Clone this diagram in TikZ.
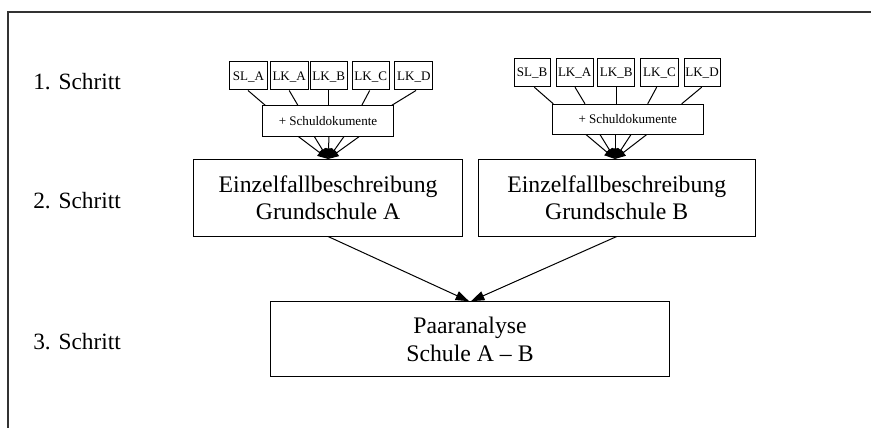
\documentclass[tikz,border=0pt]{standalone}
\usepackage{fontspec}
\setmainfont{Liberation Serif}
\usetikzlibrary{arrows.meta,calc}

\tikzset{
  box/.style={draw, line width=0.75pt, inner sep=0pt, align=center},
  smallbox/.style={box, font=\fontsize{9.8pt}{11pt}\selectfont, text height=6.5pt, text depth=0pt},
  bigbox/.style={box, font=\fontsize{17.8pt}{20.8pt}\selectfont},
  steplabel/.style={anchor=base west, inner sep=0pt, font=\fontsize{17.5pt}{20pt}\selectfont},
  link/.style={line width=0.75pt},
  arrowlink/.style={line width=0.75pt, -{Triangle[length=10pt,width=7pt]}},
  fanlink/.style={line width=0.75pt, -{Triangle[length=8pt,width=6pt]}},
  frame/.style={line width=1pt, black!80}
}

\begin{document}
\begin{tikzpicture}[x=0.75pt, y=-0.75pt]
\useasboundingbox (0,0) rectangle (871,428);

% open frame: top and left edges
\coordinate (fcorner) at (8,12);
\coordinate (ftop) at (871,12);
\coordinate (fleft) at (8,428);
\draw[frame] (ftop) -- (fcorner) -- (fleft);

% step labels
\node[steplabel] (s1) at (33,89.3) {1. Schritt};
\node[steplabel] (s2) at (33,208.3) {2. Schritt};
\node[steplabel] (s3) at (33,349.5) {3. Schritt};

% school A: persons
\node[smallbox, minimum width=28.8pt, minimum height=21.2pt] (sla)  at (248.5,75.85) {SL\_A};
\node[smallbox, minimum width=28.7pt, minimum height=21.2pt] (lkaa) at (289.2,75.85) {LK\_A};
\node[smallbox, minimum width=28.0pt, minimum height=21.2pt] (lkba) at (328.7,75.85) {LK\_B};
\node[smallbox, minimum width=27.5pt, minimum height=21.2pt] (lkca) at (370.7,75.85) {LK\_C};
\node[smallbox, minimum width=28.3pt, minimum height=21.2pt] (lkda) at (413.8,75.85) {LK\_D};
\node[smallbox, minimum width=98pt, minimum height=22.5pt] (sda) at (328,121) {+ Schuldokumente};

% school B: persons
\node[smallbox, minimum width=27pt, minimum height=21.3pt] (slb)  at (532,72.5) {SL\_B};
\node[smallbox, minimum width=28pt, minimum height=21.3pt] (lkab) at (574.7,72.5) {LK\_A};
\node[smallbox, minimum width=28pt, minimum height=21.3pt] (lkbb) at (616.3,72.5) {LK\_B};
\node[smallbox, minimum width=28.2pt, minimum height=21.3pt] (lkcb) at (659.5,72.5) {LK\_C};
\node[smallbox, minimum width=27pt, minimum height=21.3pt] (lkdb) at (702,72.5) {LK\_D};
\node[smallbox, minimum width=113.25pt, minimum height=22.3pt] (sdb) at (627.8,119.2) {+ Schuldokumente};

% case descriptions and pair analysis
\node[bigbox, minimum width=201.9pt, minimum height=57.4pt] (ga) at (328.1,197.75) {Einzelfallbeschreibung\\Grundschule A};
\node[bigbox, minimum width=207.5pt, minimum height=57.4pt] (gb) at (616.7,197.75) {Einzelfallbeschreibung\\Grundschule B};
\node[bigbox, minimum width=299pt, minimum height=56.25pt] (pa) at (470,339.2) {Paaranalyse\\Schule A – B};

% persons to documents, school A
\draw[link] ($(sla.south)+(-0.5,0)$) -- ($(sda.north)+(-62.5,0)$);
\draw[link] (lkaa.south) -- ($(sda.north)+(-30,0)$);
\draw[link] (lkba.south) -- (lkba.south |- sda.north);
\draw[link] ($(lkca.south)+(-1,0)$) -- ($(sda.north)+(33.7,0)$);
\draw[link] ($(lkda.south)+(2.2,0)$) -- ($(sda.north)+(63.5,0)$);

% persons to documents, school B
\draw[link] ($(slb.south)+(2.3,0)$) -- ($(sdb.north)+(-74.5,0)$);
\draw[link] ($(lkab.south)+(0.3,0)$) -- ($(sdb.north)+(-42.8,0)$);
\draw[link] (lkbb.south) -- (lkbb.south |- sdb.north);
\draw[link] ($(lkcb.south)+(-2.8,0)$) -- ($(sdb.north)+(19.9,0)$);
\draw[link] ($(lkdb.south)+(-0.3,0)$) -- ($(sdb.north)+(53.9,0)$);

% documents to case description A
\foreach \dx in {-29.7,-13.7,1,16,31.3}
  \draw[fanlink] ($(sda.south)+(\dx,0)$) -- (ga.north);

% documents to case description B
\coordinate (gbin) at ($(gb.north)+(-1.7,0)$);
\foreach \dx in {-41.8,-27.8,-12.8,3.2,18.9}
  \draw[fanlink] ($(sdb.south)+(\dx,0)$) -- (gbin);

% case descriptions to pair analysis
\draw[arrowlink] (ga.south) -- ($(pa.north)+(-1,0)$);
\draw[arrowlink] (gb.south) -- ($(pa.north)+(1,0)$);
\end{tikzpicture}
\end{document}
